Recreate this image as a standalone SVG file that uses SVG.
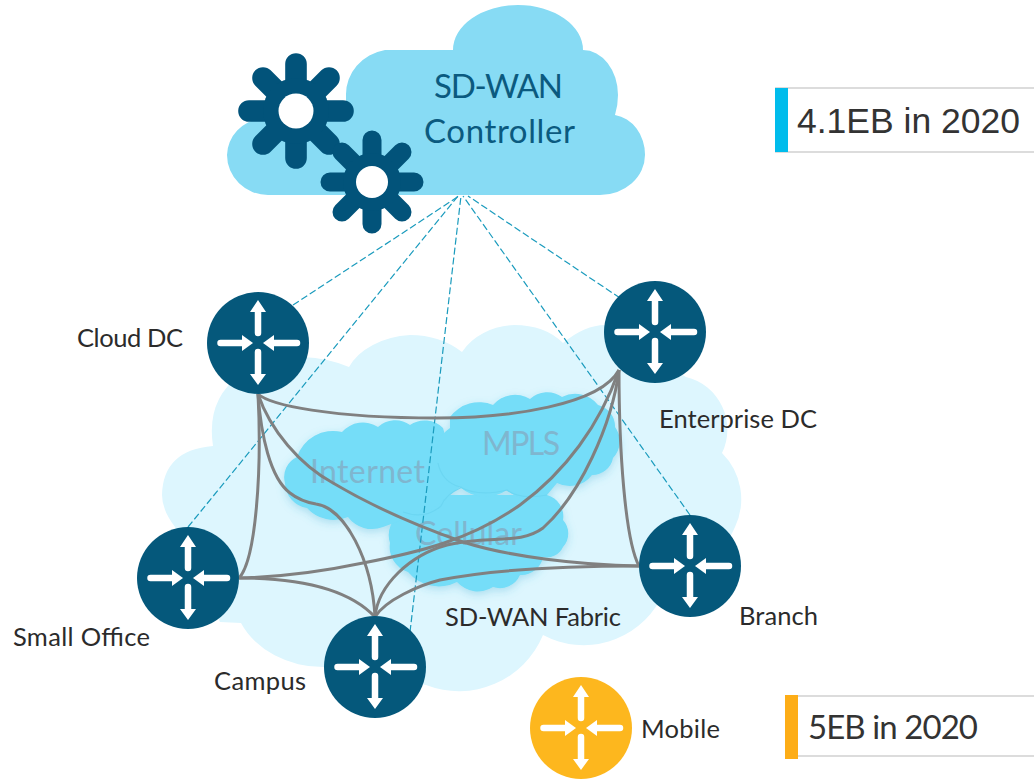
<svg xmlns="http://www.w3.org/2000/svg" width="1034" height="780" viewBox="0 0 1034 780">
<style>
.lbl{font-family:Lato,"Liberation Sans",sans-serif;font-size:25.500px;fill:#2b2b2b}
.ctl{font-family:Lato,"Liberation Sans",sans-serif;font-size:33px;fill:#0b5a7f}
.net{font-family:Lato,"Liberation Sans",sans-serif;font-size:32px;fill:#7fb6cf}
.stat{fill:#333}
.curve{fill:none;stroke:#808080;stroke-width:3}
.dash{fill:none;stroke:#1a9bbd;stroke-width:1.200;stroke-dasharray:7 3}
.rule{stroke:#dcdcdc;stroke-width:2}
.inner{fill:#74ddf8}
.seam{fill:none;stroke:#6cd6f2;stroke-width:1.200}
.r{fill:#05587b}
.m{fill:#fdb71e}
.spoke{stroke:#02537a;stroke-linecap:round;fill:none}
</style>
<defs>
<filter id="sh" x="-10%" y="-10%" width="120%" height="125%"><feDropShadow dx="0" dy="3" stdDeviation="4" flood-color="#3aa9cc" flood-opacity="0.3"/></filter>
<g id="arrows">
<path d="M0-32V-10M0 9V32M-37.500 0H-15M39 0H16" stroke="#fff" stroke-width="6.500" stroke-linecap="round" fill="none"/>
<path d="M0-43L8-31H-8ZM0 42L8 31H-8ZM-5 0L-16-8V8ZM5 0L16-8V8Z" fill="#fff"/>
</g>
</defs>
<g id="controller-cloud">
<path d="M268,195 A41,40 0 0 1 227,155 A41,38 0 0 1 262,118 L346,118 V95 A48,45 0 0 1 385,50 H453 A65,45 0 0 1 518,5 A65,45 0 0 1 583,50 A35,45 0 0 1 618,95 Q618,105 615,115 A35,40 0 0 1 645,155 A45,40 0 0 1 600,195 Z" fill="#87dbf4"/>
<text class="ctl" x="434" y="98" textLength="129">SD-WAN</text>
<text class="ctl" x="424" y="143" textLength="151">Controller</text>
</g>
<g id="gear-large">
<g class="spoke" stroke-width="21.600">
<path d="M296,111 V64 M296,111 V158 M296,111 H249 M296,111 H343 M296,111 L263,78 M296,111 L329,78 M296,111 L263,144 M296,111 L329,144"/>
</g>
<circle cx="296" cy="111" r="33" fill="#02537a"/><circle cx="296" cy="111" r="17.500" fill="#fff"/>
</g>
<g id="gear-small">
<g class="spoke" stroke-width="19">
<path d="M372,182 V140 M372,182 V224 M372,182 H330 M372,182 H414 M372,182 L342,152 M372,182 L402,152 M372,182 L342,212 M372,182 L402,212"/>
</g>
<circle cx="372" cy="182" r="29" fill="#02537a"/><circle cx="372" cy="182" r="16" fill="#fff"/>
</g>
<g id="fabric-cloud">
<path d="M175,527 Q162,510 162,495 Q163,450 213,446 Q206,400 240,375 Q270,352 303,357 Q328,358 349,367 A72,50 0 0 1 410,335 Q440,335 462,352 A62,50 0 0 1 514,325 Q545,325 563,343 Q585,325 605,325 L670,370 Q680,373 686,377 A54,54 0 0 1 722,453 A65,65 0 0 1 735,527 L700,600 L660,600 A87,87 0 0 1 543,635 A91,91 0 0 1 426,685 L324,667 A90,75 0 0 1 241,623 L220,622 Z" fill="#ddf6fe"/>
</g>
<g id="inner-clouds" filter="url(#sh)">
<path id="cloud-cellular" class="inner" d="M402,513 L450,495 L547,495 A22,22 0 0 1 563,520 A20,20 0 0 1 563,547 A18,18 0 0 1 543,557 A22,22 0 0 1 520,575 A22,22 0 0 1 493,587 A28,28 0 0 1 457,582 A40,40 0 0 1 408,572 A26,26 0 0 1 390,543 A25,25 0 0 1 402,513Z"/>
<path id="cloud-internet" class="inner" d="M297,457 A38,38 0 0 1 342,432 A28,28 0 0 1 378,427 A25,25 0 0 1 410,425 A26,26 0 0 1 443,428 L460,487 L430,510 L383,527 A30,30 0 0 1 348,517 A36,36 0 0 1 307,508 A26,26 0 0 1 285,483 A22,22 0 0 1 297,457Z"/>
<path id="cloud-mpls" class="inner" d="M450,417 A36,36 0 0 1 493,405 A29,29 0 0 1 530,399 A25,25 0 0 1 562,397 A29,29 0 0 1 598,405 A22,22 0 0 1 615,427 A24,24 0 0 1 613,458 A21,21 0 0 1 592,475 A28,28 0 0 1 557,483 L547,495 A34,34 0 0 1 507,490 A38,38 0 0 1 460,487 A28,28 0 0 1 438,463 A30,30 0 0 1 450,428Z"/>
</g>
<g id="cloud-seams">
<path class="seam" d="M403,512 Q425,520 441,506 Q445,495 462,487"/>
<path class="seam" d="M438,463 Q442,482 460,487 Q478,497 507,490 Q520,500 547,495"/>
</g>
<g id="cloud-labels">
<text class="net" x="310" y="483" textLength="115">Internet</text>
<text class="net" x="482" y="455" textLength="78">MPLS</text>
<text class="net" x="415" y="545" textLength="107">Cellular</text>
</g>
<g id="connectors">
<path class="dash" d="M293,305 L459,196"/>
<path class="dash" d="M188,527 L458,196"/>
<path class="dash" d="M410,632 L461,196"/>
<path class="dash" d="M690,515 L463,196"/>
<path class="dash" d="M620,298 L468,196"/>
<path class="curve" d="M258,394 C270,405 330,418 437,418 C510,418 600,405 619,370"/>
<path class="curve" d="M258,394 C262,470 256,560 239,578"/>
<path class="curve" d="M258,394 C261,435 270,478 290,493 C300,501 310,503 316,504 C345,508 372,560 375,617"/>
<path class="curve" d="M258,394 C270,430 300,465 333,483 C370,505 420,527 463,542 C510,557 580,565 639,566"/>
<path class="curve" d="M619,370 C600,425 565,472 520,505 C470,540 420,552 363,563 C320,572 280,577 239,578"/>
<path class="curve" d="M619,370 C612,425 580,495 543,528 C520,545 490,535 447,545 C410,555 378,585 375,617"/>
<path class="curve" d="M619,370 C619,450 625,540 639,566"/>
<path class="curve" d="M239,578 C290,578 345,585 375,617"/>
<path class="curve" d="M375,617 C385,600 420,585 440,580 C490,570 560,566 639,566"/>
</g>
<g id="node-cloud-dc"><circle class="r" cx="258" cy="343" r="51"/><use href="#arrows" x="258" y="343"/><text class="lbl" x="77" y="347" textLength="106">Cloud DC</text></g>
<g id="node-enterprise-dc"><circle class="r" cx="655" cy="332" r="51"/><use href="#arrows" x="655" y="332"/><text class="lbl" x="659" y="428" textLength="158">Enterprise DC</text></g>
<g id="node-small-office"><circle class="r" cx="188" cy="578" r="51"/><use href="#arrows" x="188" y="578"/><text class="lbl" x="13" y="646" textLength="137">Small Office</text></g>
<g id="node-campus"><circle class="r" cx="375" cy="667" r="51"/><use href="#arrows" x="375" y="667"/><text class="lbl" x="214" y="690" textLength="92">Campus</text></g>
<g id="node-branch"><circle class="r" cx="690" cy="566" r="51"/><use href="#arrows" x="690" y="566"/><text class="lbl" x="739" y="625" textLength="79">Branch</text></g>
<g id="node-mobile"><circle class="m" cx="581" cy="728" r="51"/><use href="#arrows" x="581" y="728"/><text class="lbl" x="641" y="738" textLength="79">Mobile</text></g>
<text id="fabric-label" class="lbl" x="445" y="626" textLength="176">SD-WAN Fabric</text>
<g id="stat-top">
<path class="rule" d="M775,88H1034M775,152H1034"/>
<rect x="775" y="88" width="13" height="64" fill="#00bcec"/>
<text class="stat" x="797" y="133" font-size="35.500" font-family="'Liberation Sans',Arial,sans-serif">4.1EB in 2020</text>
</g>
<g id="stat-bottom">
<path class="rule" d="M785,696H1034M785,756H1034"/>
<rect x="785" y="695" width="13" height="64" fill="#fdad17"/>
<text class="stat" x="808" y="739" font-size="33" textLength="170" font-family="Lato,'Liberation Sans',sans-serif">5EB in 2020</text>
</g>
</svg>
